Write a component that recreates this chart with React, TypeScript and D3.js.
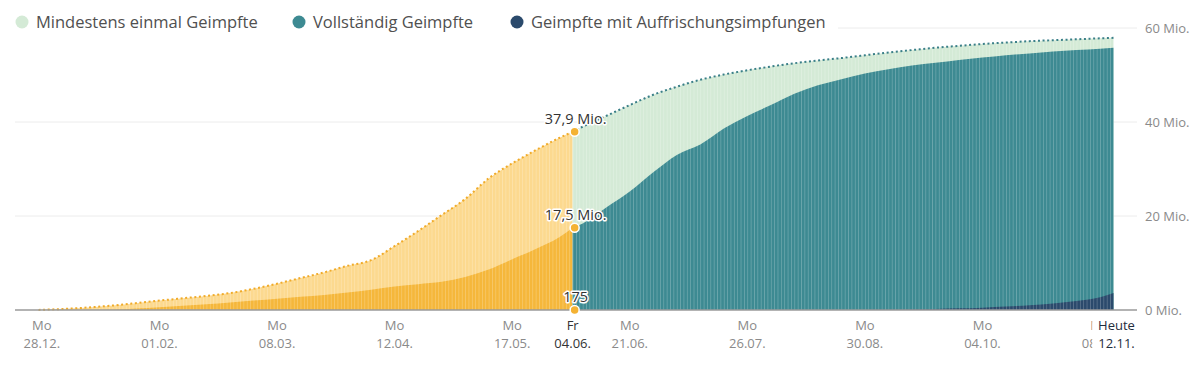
import * as React from 'react';
import * as d3 from 'd3';

// weekly readings (Mondays) plus the split day and today
const dates = [
  '2020-12-27', '2021-01-04', '2021-01-11', '2021-01-18', '2021-01-25',
  '2021-02-01', '2021-02-08', '2021-02-15', '2021-02-22',
  '2021-03-01', '2021-03-08', '2021-03-15', '2021-03-22', '2021-03-29',
  '2021-04-05', '2021-04-12', '2021-04-19', '2021-04-26',
  '2021-05-03', '2021-05-10', '2021-05-17', '2021-05-24', '2021-05-31',
  '2021-06-04', '2021-06-07', '2021-06-14', '2021-06-21', '2021-06-28',
  '2021-07-05', '2021-07-12', '2021-07-19', '2021-07-26',
  '2021-08-02', '2021-08-09', '2021-08-16', '2021-08-23', '2021-08-30',
  '2021-09-06', '2021-09-13', '2021-09-20', '2021-09-27',
  '2021-10-04', '2021-10-11', '2021-10-18', '2021-10-25',
  '2021-11-01', '2021-11-08', '2021-11-12',
];

// Mio.
const firstDose = [
  0.02, 0.25, 0.55, 0.95, 1.45,
  2.0, 2.5, 3.0, 3.6,
  4.5, 5.6, 6.8, 8.0, 9.4,
  10.6, 13.6, 16.8, 20.2,
  23.6, 28.0, 31.2, 34.0, 36.6,
  37.9, 39.0, 41.3, 43.6, 45.8,
  47.5, 49.0, 50.1, 51.0,
  51.8, 52.5, 53.1, 53.6, 54.2,
  54.8, 55.3, 55.8, 56.2,
  56.6, 56.9, 57.2, 57.4,
  57.6, 57.8, 57.9,
];

const fullDose = [
  0, 0, 0, 0.05, 0.3,
  0.6, 0.9, 1.2, 1.6,
  2.0, 2.4, 2.8, 3.2, 3.7,
  4.3, 5.0, 5.5, 6.0,
  7.0, 8.6, 10.8, 13.0, 15.5,
  17.5, 18.4, 21.8, 25.2, 29.3,
  33.0, 35.2, 38.6, 41.3,
  43.6, 46.0, 47.8, 49.1, 50.3,
  51.2, 52.0, 52.6, 53.2,
  53.7, 54.2, 54.6, 55.0,
  55.3, 55.6, 55.8,
];

const boosters = [
  0, 0, 0, 0, 0,
  0, 0, 0, 0,
  0, 0, 0, 0, 0,
  0, 0, 0, 0,
  0, 0, 0, 0, 0,
  0.000175, 0, 0, 0, 0,
  0, 0, 0, 0,
  0, 0, 0, 0, 0.02,
  0.05, 0.1, 0.2, 0.35,
  0.5, 0.75, 1.0, 1.4,
  1.9, 2.7, 3.6,
];

const splitDate = '2021-06-04';
const todayDate = '2021-11-12';
const domainDates = ['2020-12-20', '2021-11-19'];

const yTicks = [0, 20, 40, 60];

const weekTicks = ['2020-12-28', '2021-02-01', '2021-03-08', '2021-04-12', '2021-05-17',
  '2021-06-21', '2021-07-26', '2021-08-30', '2021-10-04', '2021-11-08'];

const calloutLabels = ['37,9 Mio.', '17,5 Mio.', '175'];

const legendLabels = ['Mindestens einmal Geimpfte', 'Vollständig Geimpfte', 'Geimpfte mit Auffrischungsimpfungen'];
const legendColors = ['#d4ead6', '#3d8a92', '#2b4a6c'];

const W = 1200;
const H = 371;
const FONT = "'Open Sans', 'Noto Sans', sans-serif";

const parse = d3.timeParse('%Y-%m-%d');
const fmt = d3.timeFormat('%d.%m.');

const App = () => {
  const dts = dates.map((d) => parse(d) as Date);
  const split = dates.indexOf(splitDate);

  const x = d3.scaleTime()
    .domain(domainDates.map((d) => parse(d) as Date))
    .range([15, 1137]);
  const y = d3.scaleLinear().domain([0, 60]).range([310, 28]);

  const dayW = x(d3.timeDay.offset(dts[0], 1)) - x(dts[0]);

  const areaOf = (vals: number[], from: number, to: number) =>
    d3.area<number>()
      .x((_, i) => x(dts[from + i]))
      .y0(y(0))
      .y1((v) => y(v))
      .curve(d3.curveMonotoneX)(vals.slice(from, to)) || '';

  const lineOf = (vals: number[], from: number, to: number) =>
    d3.line<number>()
      .x((_, i) => x(dts[from + i]))
      .y((v) => y(v))
      .curve(d3.curveMonotoneX)(vals.slice(from, to)) || '';

  const n = dates.length;
  const sx = x(dts[split]);
  const calloutValues = [firstDose[split], fullDose[split], boosters[split]];
  const todayX = x(parse(todayDate) as Date);
  const todayBgX = todayX - 21;

  return (
    <svg width={W} height={H} style={{ position: 'absolute', left: 0, top: 0, background: '#fff' }}
      fontFamily={FONT}>
      <defs>
        <pattern id="stripes" patternUnits="userSpaceOnUse" width={dayW} height={10} x={x(dts[0])}>
          <rect x={0} y={0} width={0.7} height={10} fill="rgba(255,255,255,0.28)" />
        </pattern>
        <clipPath id="dataClip">
          <path d={areaOf(firstDose, 0, split + 1)} />
          <path d={areaOf(firstDose, split, n)} />
        </clipPath>
        <clipPath id="todayHide">
          <rect x={0} y={0} width={todayBgX} height={H} />
        </clipPath>
      </defs>

      {/* grid */}
      {yTicks.filter((t) => t > 0).map((t) => (
        <line key={t} x1={15} x2={1137} y1={y(t)} y2={y(t)} stroke="#ececec" strokeWidth={1} />
      ))}

      {/* before split: yellow */}
      <path d={areaOf(firstDose, 0, split + 1)} fill="#fcd98f" />
      <path d={areaOf(fullDose, 0, split + 1)} fill="#f5b73b" />
      {/* after split */}
      <path d={areaOf(firstDose, split, n)} fill="#d4ead6" />
      <path d={areaOf(fullDose, split, n)} fill="#3d8a92" />
      <path d={areaOf(boosters, split, n)} fill="#2b4a6c" />

      <rect x={0} y={0} width={W} height={H} fill="url(#stripes)" clipPath="url(#dataClip)" />

      <path d={lineOf(firstDose, 0, split + 1)} fill="none" stroke="#f0ab2a" strokeWidth={2}
        strokeDasharray="2,2.6" />
      <path d={lineOf(firstDose, split, n)} fill="none" stroke="#3a7f88" strokeWidth={2}
        strokeDasharray="2,2.6" />

      {/* baseline */}
      <line x1={15} x2={1137} y1={y(0)} y2={y(0)} stroke="#9a9a9a" strokeWidth={1.5} />

      {/* y labels */}
      {yTicks.map((t) => (
        <text key={t} x={1145} y={y(t)} dy="0.35em" fontSize={13} fill="#8a8a8a">{`${t} Mio.`}</text>
      ))}

      {/* callouts at split */}
      {calloutValues.map((v, i) => (
        <g key={i}>
          <circle cx={sx + 2} cy={y(v)} r={4.5} fill="#f4b233" stroke="#fff" strokeWidth={1.5} />
          <text x={sx + 3} y={y(v) - 8} textAnchor="middle" fontSize={14.5} fill="#333"
            stroke="#fff" strokeWidth={3} paintOrder="stroke" strokeLinejoin="round">{calloutLabels[i]}</text>
        </g>
      ))}

      {/* x labels; the last Monday sits under the "Heute" label */}
      {weekTicks.map((d, i) => {
        const tx = x(parse(d) as Date);
        const hidden = i === weekTicks.length - 1;
        return (
          <g key={d} fontSize={13} fill="#8a8a8a" textAnchor="middle"
            clipPath={hidden ? 'url(#todayHide)' : undefined}>
            <text x={tx} y={330}>Mo</text>
            <text x={tx} y={348}>{fmt(parse(d) as Date)}</text>
          </g>
        );
      })}
      <g fontSize={13} fill="#333" textAnchor="middle">
        <text x={sx} y={330}>Fr</text>
        <text x={sx} y={348}>{fmt(dts[split])}</text>
      </g>
      <rect x={todayBgX} y={314} width={46} height={40} fill="#fff" />
      <g fontSize={13} fill="#1f2d3d" textAnchor="middle">
        <text x={todayX + 3} y={330}>Heute</text>
        <text x={todayX + 3} y={348}>{fmt(parse(todayDate) as Date)}</text>
      </g>

      {/* legend */}
      <rect x={8} y={6} width={830} height={32} fill="#fff" />
      {legendLabels.map((l, i) => {
        const lx = [22, 299, 517][i];
        return (
          <g key={l}>
            <circle cx={lx} cy={22} r={6.5} fill={legendColors[i]} />
            <text x={lx + 14} y={22} dy="0.35em" fontSize={16.5} fill="#505050">{l}</text>
          </g>
        );
      })}
    </svg>
  );
};

export default App;
